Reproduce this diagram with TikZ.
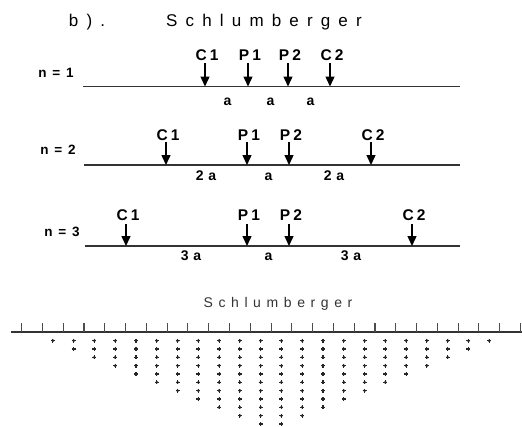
\documentclass[tikz,border=0pt]{standalone}
\usepackage{fontspec}
\setmainfont{Liberation Sans}
\newfontfamily\ttlfont[LetterSpace=48]{Liberation Sans}
\newfontfamily\subfont[LetterSpace=40]{Liberation Sans}
\newfontfamily\lblfont[LetterSpace=20]{Liberation Sans}
\newfontfamily\spcfont[LetterSpace=35]{Liberation Sans}
\newfontfamily\nfont[LetterSpace=15]{Liberation Sans}
\usetikzlibrary{arrows.meta}
\tikzset{
  ttl/.style={font=\ttlfont\fontsize{17}{17}\selectfont, inner sep=0pt},
  subttl/.style={font=\subfont\fontsize{14}{14}\selectfont, inner sep=0pt, text=black!80},
  elec/.style={font=\lblfont\bfseries\fontsize{15.5}{15}\selectfont, inner sep=0pt},
  nlab/.style={font=\nfont\bfseries\fontsize{13.5}{13}\selectfont, inner sep=0pt},
  spc/.style={font=\spcfont\bfseries\fontsize{14}{14}\selectfont, inner sep=0pt},
  arr/.style={line width=1.4pt, -{Triangle[width=9pt,length=10pt]}},
  baseline/.style={line width=1.2pt, black!80},
  tick/.style={line width=1.1pt, black!70},
  dotmark/.style={line width=1.1pt, black!85}
}
\begin{document}
\begin{tikzpicture}[x=1pt,y=-1pt]
\useasboundingbox (0,0) rectangle (522,426);
% titles
\node[ttl] (b) at (87,22) {b).};
\node[ttl] (title) at (264,22) {Schlumberger};
% ---------- n = 1
\node[nlab] (n1) at (56,72.5) {n = 1};
\coordinate (l1a) at (83,86.5); \coordinate (l1b) at (460,86.5);
\draw[baseline] (l1a) -- (l1b);
\foreach \nm/\x in {C1/205,P1/248,P2/288,C2/330}{
  \coordinate (r1\nm) at (\x,86.5);
  \coordinate (r1\nm t) at (\x,63);
  \node[elec] (lab1\nm) at (\x+2,55) {\nm};
  \draw[arr] (r1\nm t) -- (r1\nm);
}
\node[spc] (s1a) at (227.5,102) {a};
\node[spc] (s1b) at (270.5,102) {a};
\node[spc] (s1c) at (310.5,102) {a};
% ---------- n = 2
\node[nlab] (n2) at (58,150) {n = 2};
\coordinate (l2a) at (84,165); \coordinate (l2b) at (460,165);
\draw[baseline] (l2a) -- (l2b);
\foreach \nm/\x in {C1/166,P1/247,P2/289,C2/371}{
  \coordinate (r2\nm) at (\x,165);
  \coordinate (r2\nm t) at (\x,142);
  \node[elec] (lab2\nm) at (\x+2,135) {\nm};
  \draw[arr] (r2\nm t) -- (r2\nm);
}
\node[spc] (s2a) at (206,175.5) {2a};
\node[spc] (s2b) at (268.5,176.5) {a};
\node[spc] (s2c) at (334,175.5) {2a};
% ---------- n = 3
\node[nlab] (n3) at (62,232) {n = 3};
\coordinate (l3a) at (85,246); \coordinate (l3b) at (460,246);
\draw[baseline] (l3a) -- (l3b);
\foreach \nm/\x in {C1/126,P1/247,P2/289,C2/412}{
  \coordinate (r3\nm) at (\x,246);
  \coordinate (r3\nm t) at (\x,224);
  \node[elec] (lab3\nm) at (\x+2,215) {\nm};
  \draw[arr] (r3\nm t) -- (r3\nm);
}
\node[spc] (s3a) at (191,256) {3a};
\node[spc] (s3b) at (268.5,257) {a};
\node[spc] (s3c) at (351,256) {3a};
% ---------- pseudosection
\node[subttl] (title2) at (278,304) {Schlumberger};
\coordinate (pa) at (11,332); \coordinate (pb) at (522,332);
\draw[baseline] (pa) -- (pb);
\foreach \i in {0,...,24}{
  \draw[tick] ({21.7+20.78*\i},323) -- ({21.7+20.78*\i},332);
}
\foreach \k in {1,...,11}{
  \pgfmathtruncatemacro{\last}{23-\k}
  \foreach \i in {\k,...,\last}{
    \pgfmathsetmacro{\xx}{21.7+20.78*(\i+0.5)}
    \pgfmathsetmacro{\yy}{340.7+8.33*(\k-1)}
    \fill[black!80] (\xx,\yy) circle[radius=1.6];
    \draw[dotmark] (\xx-2,\yy) -- (\xx+2,\yy) (\xx,\yy-2) -- (\xx,\yy+2);
  }
}
\end{tikzpicture}
\end{document}
